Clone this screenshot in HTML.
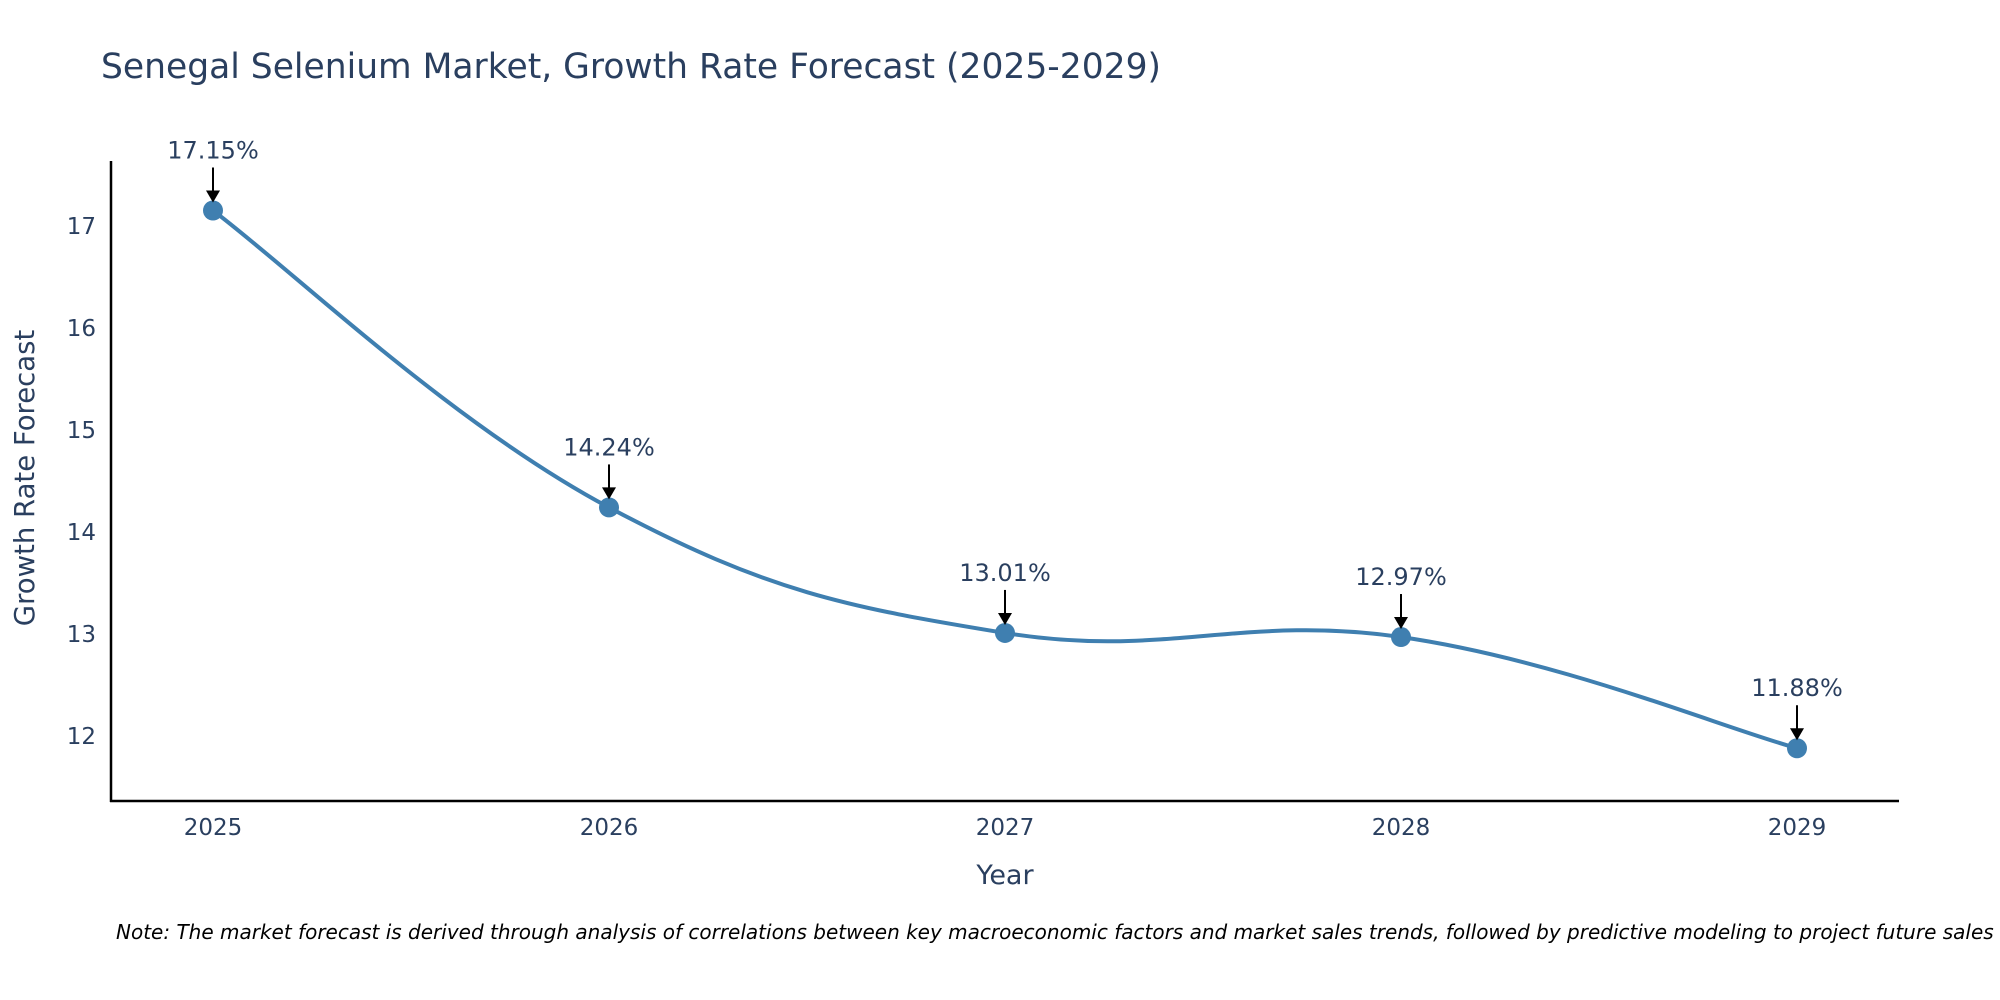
<!DOCTYPE html>
<html><head><meta charset="utf-8"><style>
body{margin:0;background:#fff;}
svg{display:block;font-family:"DejaVu Sans","Liberation Sans",sans-serif;}
</style></head><body>
<svg id="chart" width="2000" height="1000">
<text x="101" y="78" font-size="34.5" fill="#2a3f5f">Senegal Selenium Market, Growth Rate Forecast (2025-2029)</text>
<g id="grid"></g>
<line x1="111" y1="161" x2="111" y2="802" stroke="#000" stroke-width="2.5"/>
<line x1="110" y1="801" x2="1899" y2="801" stroke="#000" stroke-width="2.5"/>
<g id="yticks"></g><g id="xticks"></g>
<path id="line" fill="none" stroke="#3f7fb0" stroke-width="4"/>
<g id="points"></g><g id="annos"></g>
<text x="34" y="478" font-size="27.5" fill="#2a3f5f" text-anchor="middle" transform="rotate(-90 34 478)">Growth Rate Forecast</text>
<text x="1005" y="884" font-size="27" fill="#2a3f5f" text-anchor="middle">Year</text>
<text x="116" y="939" font-size="20" font-style="italic" fill="#000">Note: The market forecast is derived through analysis of correlations between key macroeconomic factors and market sales trends, followed by predictive modeling to project future sales</text>
</svg>
<script>
const years=["2025","2026","2027","2028","2029"];
const values=[17.15,14.24,13.01,12.97,11.88];
const labels=["17.15%","14.24%","13.01%","12.97%","11.88%"];
const yTicks=[12,13,14,15,16,17];
const NS="http://www.w3.org/2000/svg";
const xs=i=>213+i*(1797-213)/(years.length-1);
const ys=v=>736-(v-12)*102.04;
function mk(tag,attrs,parent){const e=document.createElementNS(NS,tag);for(const k in attrs)e.setAttribute(k,attrs[k]);document.getElementById(parent).appendChild(e);return e;}
yTicks.forEach(t=>{const e=mk("text",{x:96,y:ys(t)+8,"font-size":23,fill:"#2a3f5f","text-anchor":"end"},"yticks");e.textContent=t;

});
years.forEach((y,i)=>{const e=mk("text",{x:xs(i),y:835,"font-size":23,fill:"#2a3f5f","text-anchor":"middle"},"xticks");e.textContent=y;

});
const P=values.map((v,i)=>[xs(i),ys(v)]);
let d="M"+P[0][0]+","+P[0][1];const s=0.2;
for(let i=0;i<P.length-1;i++){const p0=P[i-1]||P[i],p1=P[i],p2=P[i+1],p3=P[i+2]||P[i+1];
const c1=[p1[0]+(p2[0]-p0[0])*s,p1[1]+(p2[1]-p0[1])*s],c2=[p2[0]-(p3[0]-p1[0])*s,p2[1]-(p3[1]-p1[1])*s];
d+=" C"+c1+" "+c2+" "+p2;}
document.getElementById("line").setAttribute("d",d);
P.forEach((p,i)=>{const c=mk("circle",{cx:p[0],cy:p[1],r:10,fill:"#3f7fb0"},"points");


const l=mk("line",{x1:p[0],y1:p[1]-43,x2:p[0],y2:p[1]-18,stroke:"#000","stroke-width":2},"annos");


const a=mk("polygon",{points:`${p[0]-7},${p[1]-20} ${p[0]+7},${p[1]-20} ${p[0]},${p[1]-8}`,fill:"#000"},"annos");


const t=mk("text",{x:p[0],y:p[1]-52,"font-size":24,fill:"#2a3f5f","text-anchor":"middle"},"annos");t.textContent=labels[i];

});
</script>
</body></html>
